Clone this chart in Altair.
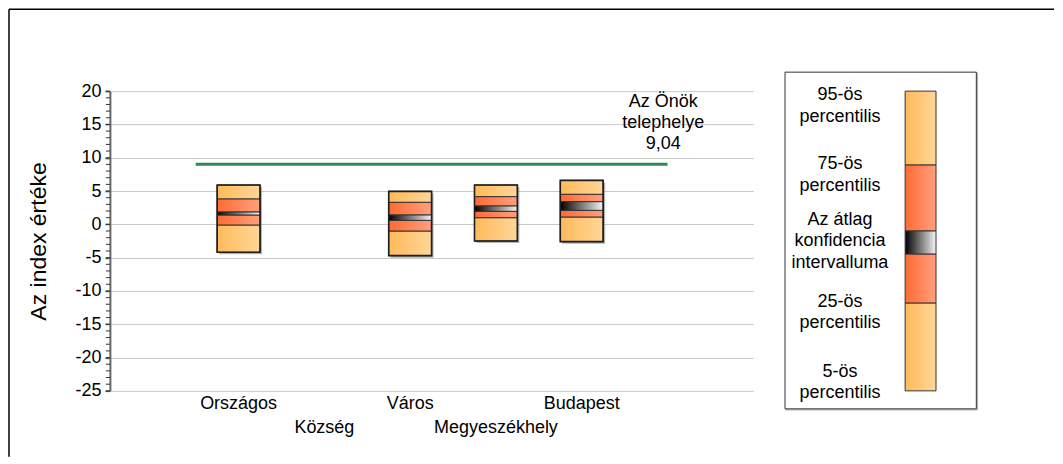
import altair as alt
import pandas as pd

# ---- data ----
categories = ["Országos", "Község", "Város", "Megyeszékhely", "Budapest"]
p5 = [-4.2, None, -4.7, -2.5, -2.6]
p25 = [-0.1, None, -1.0, 1.0, 1.1]
ci_low = [1.4, None, 0.6, 1.95, 2.1]
ci_high = [1.85, None, 1.4, 2.75, 3.4]
p75 = [3.8, None, 3.3, 4.15, 4.5]
p95 = [5.9, None, 4.95, 5.9, 6.6]
site_value = 9.04
site_label = "Az Önök\ntelephelye\n9,04"
y_ticks = [20, 15, 10, 5, 0, -5, -10, -15, -20, -25]

legend_labels = ["95-ös\npercentilis", "75-ös\npercentilis",
                 "Az átlag\nkonfidencia\nintervalluma", "25-ös\npercentilis",
                 "5-ös\npercentilis"]
legend_bounds = [20, 8.9, -1.0, -4.45, -11.8, -25]
legend_label_y = [19.4, 9.05, 0.65, -11.65, -22.15]

FONT = "Liberation Sans"
W, H = 644, 300

# ---- tables ----
pos = [i + 1.5 for i in range(len(categories))]
seg_rows, box_rows = [], []
for i, c in enumerate(categories):
    if p5[i] is None:
        continue
    lo, hi = pos[i] - 0.25, pos[i] + 0.25
    box_rows.append(dict(cat=c, x0=lo, x1=hi, y0=p5[i], y1=p95[i]))
    for a, b, k in [(p5[i], p25[i], "light"), (p25[i], ci_low[i], "red"),
                    (ci_low[i], ci_high[i], "ci"), (ci_high[i], p75[i], "red"),
                    (p75[i], p95[i], "light")]:
        seg_rows.append(dict(cat=c, x0=lo, x1=hi, y0=a, y1=b, kind=k))
seg = pd.DataFrame(seg_rows)
boxes = pd.DataFrame(box_rows)
labels = pd.DataFrame(dict(cat=categories, pos=pos, row=[i % 2 for i in range(len(categories))]))

leg_kinds = ["light", "red", "ci", "red", "light"]
LBX0, LBX1 = 9.27, 9.63
leg_seg = pd.DataFrame(dict(x0=[LBX0] * 5, x1=[LBX1] * 5,
                            y0=legend_bounds[:-1], y1=legend_bounds[1:], kind=leg_kinds))
leg_txt = pd.DataFrame(dict(t=legend_labels, y=legend_label_y, x=[8.51] * 5))
leg_box = pd.DataFrame(dict(x0=[7.87], x1=[10.1], y0=[22.85], y1=[-27.7]))


def grad(c0, c1):
    return alt.LinearGradient(gradient="linear", x1=0, x2=1, y1=0, y2=0,
                              stops=[alt.GradientStop(color=c0, offset=0),
                                     alt.GradientStop(color=c1, offset=1)])


fills = {"light": grad("#FFBA5A", "#FFD698"),
         "red": grad("#FF6A35", "#FFA07C"),
         "ci": grad("#000000", "#F4F4F4")}

xs = alt.Scale(domain=[0, 7.5], nice=False, zero=False)
ys = alt.Scale(domain=[-25, 20], nice=False, zero=False)
X = lambda f: alt.X(f, type="quantitative", scale=xs, axis=None)

yaxis = alt.Axis(values=y_ticks, tickSize=5, tickColor="#555", domainColor="#666",
                 domainWidth=2, tickWidth=1.5, labelFont=FONT, labelFontSize=18,
                 labelColor="#000", labelPadding=4, labelOverlap=False, labelFlush=False,
                 labelExpr="toString(datum.value)",
                 gridColor="#c8c8c8", gridWidth=1,
                 title="Az index értéke", titleFont=FONT, titleFontSize=23,
                 titleFontWeight="normal", titleColor="#000", titleAngle=-90,
                 titleX=-71, titleY=H / 2, titleAlign="center", titleBaseline="middle")
Y = lambda f: alt.Y(f, type="quantitative", scale=ys, axis=yaxis)

base = alt.Chart(seg)

axis_layer = alt.Chart(pd.DataFrame(dict(v=y_ticks))).mark_point(opacity=0).encode(
    y=Y("v"))

minor = alt.Chart(pd.DataFrame(dict(v=list(range(-25, 21))))).mark_rule(
    color="#333", strokeWidth=1).encode(
    x=alt.value(-4), x2=alt.value(0), y=Y("v"))

shadow = alt.Chart(boxes).mark_rect(color="#777", opacity=0.55, xOffset=2, yOffset=2,
                                    x2Offset=2, y2Offset=2).encode(
    x=X("x0"), x2="x1", y=Y("y0"), y2="y1")

seg_layers = []
for k, f in fills.items():
    seg_layers.append(
        base.transform_filter(alt.datum.kind == k)
        .mark_rect(fill=f, stroke="#333", strokeWidth=1)
        .encode(x=X("x0"), x2="x1", y=Y("y0"), y2="y1"))

outline = alt.Chart(boxes).mark_rect(fill=None, stroke="#1e1e1e", strokeWidth=1.6).encode(
    x=X("x0"), x2="x1", y=Y("y0"), y2="y1")

site = alt.Chart(pd.DataFrame(dict(x0=[1.0], x1=[6.5], v=[site_value]))).mark_rule(
    color="#2E8B57", strokeWidth=3).encode(x=X("x0"), x2="x1", y=Y("v"))

site_txt = alt.Chart(pd.DataFrame(dict(x=[6.45], v=[site_value], t=[site_label]))).mark_text(
    font=FONT, fontSize=18, lineBreak="\n", lineHeight=21, baseline="middle",
    align="center", dy=-62, color="#000").encode(
    x=X("x"), y=Y("v"), text="t:N")

lab_layers = []
for r, yy in [(0, H + 13), (1, H + 37)]:
    lab_layers.append(
        alt.Chart(labels).transform_filter(alt.datum.row == r)
        .mark_text(font=FONT, fontSize=18, baseline="middle", align="center", color="#000")
        .encode(x=X("pos"), y=alt.value(yy), text="cat:N"))

legbox_shadow = alt.Chart(leg_box).mark_rect(fill=None, stroke="#999", strokeWidth=1,
                                             xOffset=1, yOffset=1, x2Offset=1, y2Offset=1).encode(
    x=X("x0"), x2="x1", y=Y("y0"), y2="y1")
legbox = alt.Chart(leg_box).mark_rect(fill="white", stroke="#333", strokeWidth=1).encode(
    x=X("x0"), x2="x1", y=Y("y0"), y2="y1")
leg_layers = []
for k, f in fills.items():
    leg_layers.append(
        alt.Chart(leg_seg).transform_filter(alt.datum.kind == k)
        .mark_rect(fill=f, stroke="#333", strokeWidth=1)
        .encode(x=X("x0"), x2="x1", y=Y("y0"), y2="y1"))
leg_text = alt.Chart(leg_txt).mark_text(font=FONT, fontSize=18, lineBreak="\n",
                                        lineHeight=21.5, baseline="middle", align="center",
                                        color="#000").encode(
    x=X("x"), y=Y("y"), text="t:N")

dummy = pd.DataFrame(dict(a=[0]))
frame_l = alt.Chart(dummy).mark_rule(color="#000", strokeWidth=1.5).encode(
    x=alt.value(-101), y=alt.value(-82), y2=alt.value(366))
frame_t = alt.Chart(dummy).mark_rule(color="#000", strokeWidth=1.5).encode(
    x=alt.value(-101), x2=alt.value(945), y=alt.value(-82))

chart = alt.layer(
    axis_layer, minor, frame_l, frame_t, shadow, *seg_layers, outline, site, site_txt,
    *lab_layers, legbox_shadow, legbox, *leg_layers, leg_text
).properties(width=W, height=H, padding=0).configure_view(stroke=None)

chart.save("out.html", embed_options={"renderer": "svg", "actions": False})
